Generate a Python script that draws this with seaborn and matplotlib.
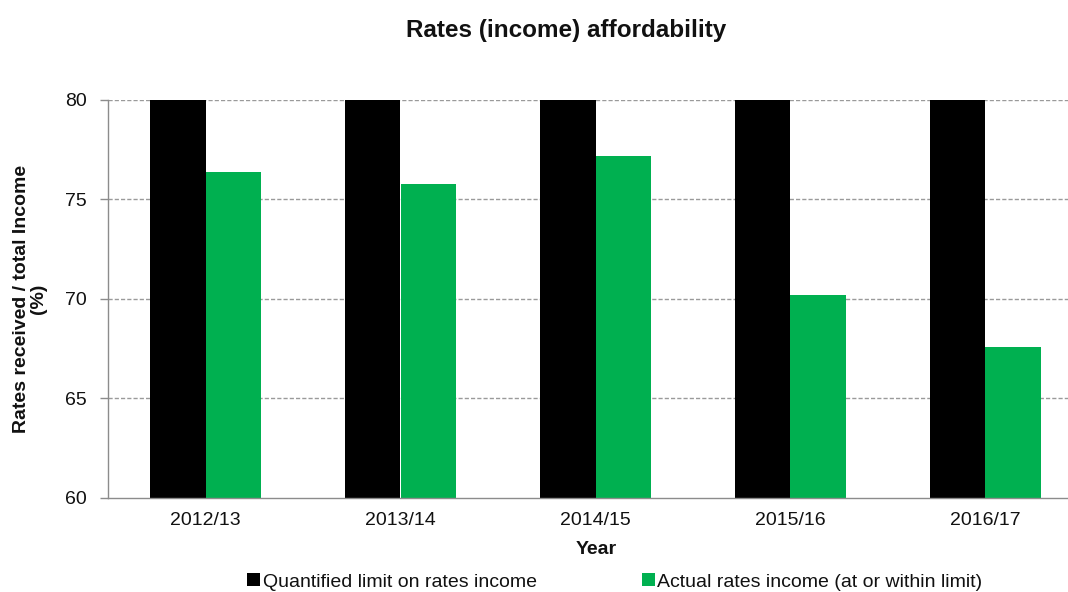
import matplotlib
matplotlib.use("Agg")
import matplotlib.pyplot as plt
from matplotlib.patches import Patch
import seaborn as sns
import pandas as pd

years = ["2012/13", "2013/14", "2014/15", "2015/16", "2016/17"]
limit_values = [80, 80, 80, 80, 80]
actual_values = [76.4, 75.8, 77.2, 70.2, 67.6]
series_names = ["Quantified limit on rates income",
                "Actual rates income (at or within limit)"]
y_ticks = [60, 65, 70, 75, 80]

df = pd.DataFrame({
    "Year": years * 2,
    "Value": limit_values + actual_values,
    "Series": [series_names[0]] * len(years) + [series_names[1]] * len(years),
})

sns.set_theme(style="white")
plt.rcParams["font.family"] = ["Liberation Sans", "DejaVu Sans"]
plt.rcParams["text.color"] = "#111111"

colors = {series_names[0]: "#000000", series_names[1]: "#00B050"}

fig = plt.figure(figsize=(10.68, 5.92), dpi=100)
ax = fig.add_axes([108 / 1068, 1 - 498 / 592, 975 / 1068, 398 / 592])

sns.barplot(data=df, x="Year", y="Value", hue="Series", order=years,
            hue_order=series_names, palette=colors, width=0.57,
            saturation=1, linewidth=0, ax=ax, legend=False)

ax.set_ylim(60, 80)
ax.set_yticks(y_ticks)
ax.set_xlim(-0.5, len(years) - 0.5)
ax.set_xlabel("")
ax.set_ylabel("")

# dashed horizontal gridlines
for y in y_ticks[1:]:
    ax.axhline(y, color="#9a9a9a", lw=1.0, ls=(0, (3, 1.5)), zorder=0)

for side in ["top", "right"]:
    ax.spines[side].set_visible(False)
for side in ["left", "bottom"]:
    ax.spines[side].set_color("#8c8c8c")
    ax.spines[side].set_linewidth(1.0)

ax.set_xticks([i + 0.5 for i in range(len(years))], minor=True)
ax.tick_params(axis="x", which="major", length=0, labelsize=14, pad=10,
               labelcolor="#111111")
ax.tick_params(axis="x", which="minor", length=6, width=1, color="#8c8c8c",
               direction="out")
ax.tick_params(axis="y", length=6, width=1, color="#8c8c8c", direction="out",
               labelsize=14, pad=9, labelcolor="#111111", left=True)

fig.text(566 / 1068, 1 - 30 / 592, "Rates (income) affordability",
         ha="center", va="center", fontsize=17.5, fontweight="bold")
fig.text(596 / 1068, 1 - 549 / 592, "Year", ha="center", va="center",
         fontsize=14, fontweight="bold")
fig.text(30 / 1068, 1 - 299 / 592, "Rates received / total Income\n(%)",
         ha="center", va="center", rotation=90, fontsize=14,
         fontweight="bold", multialignment="center", linespacing=1.0)

handles = [Patch(facecolor=colors[s], edgecolor="none") for s in series_names]
fig.legend(handles, series_names, loc="center",
           bbox_to_anchor=(615 / 1068, 1 - 582 / 592), ncol=2, frameon=False,
           fontsize=14, handlelength=0.65, handleheight=0.65,
           handletextpad=0.15, columnspacing=5.4, borderpad=0)

fig.savefig("out.png", dpi=100)
